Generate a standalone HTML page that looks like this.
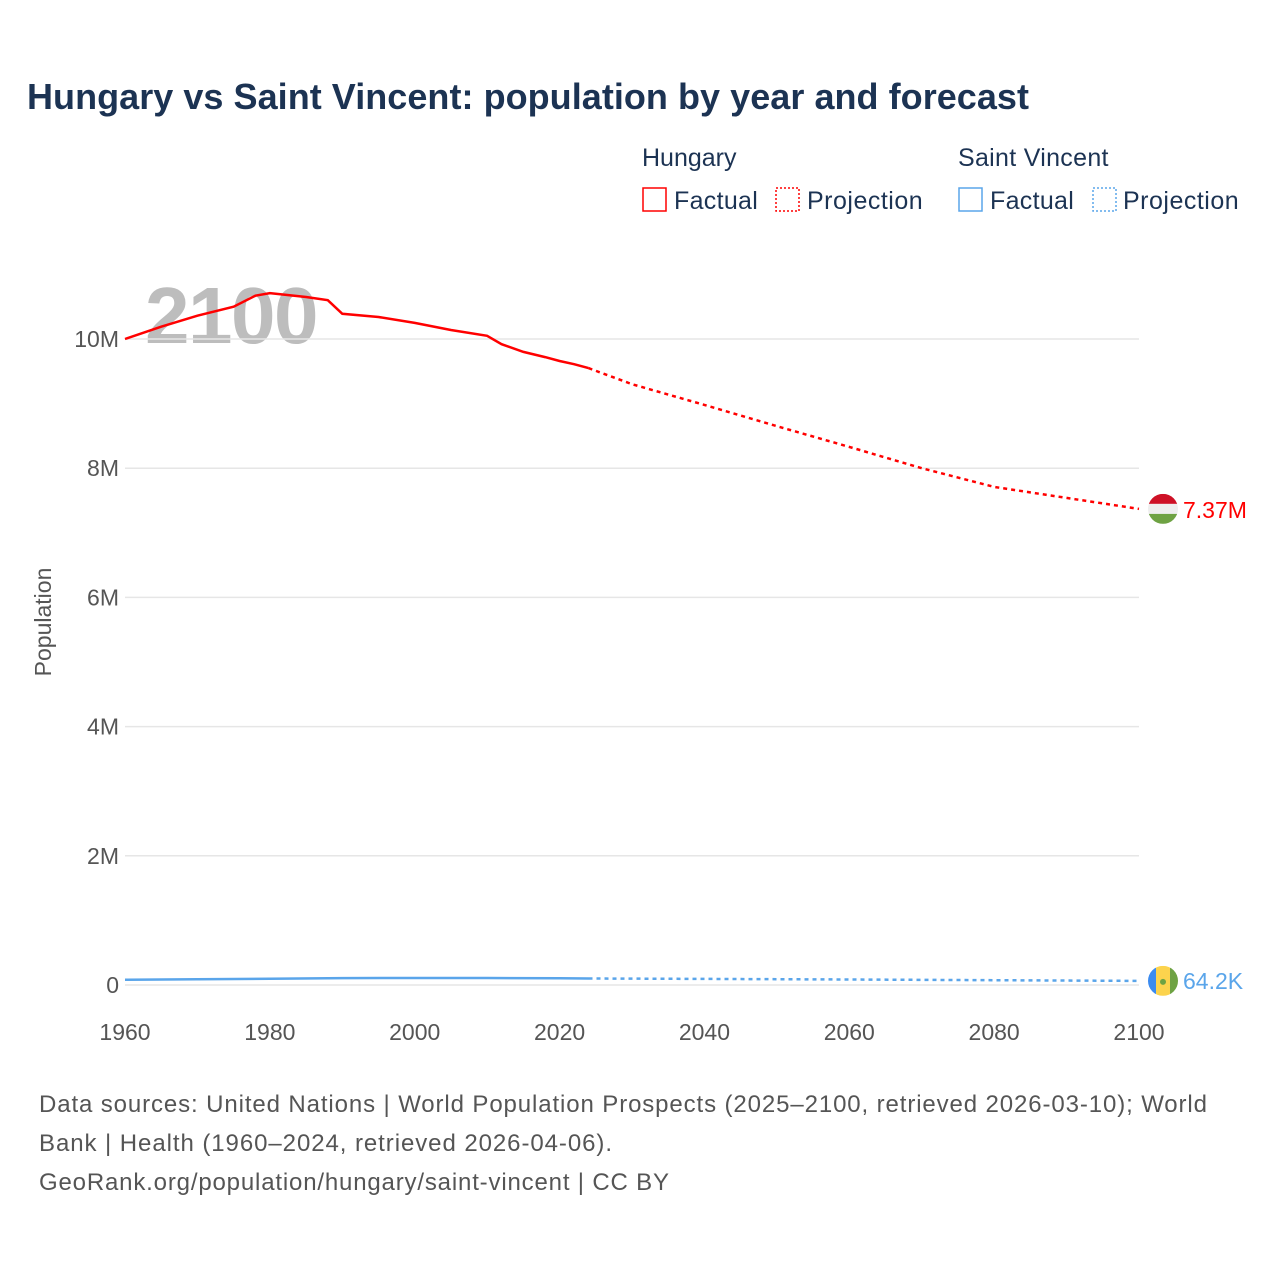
<!DOCTYPE html>
<html><head><meta charset="utf-8"><style>
body{margin:0;background:#fff;font-family:"Liberation Sans",sans-serif}
</style></head><body>
<svg width="1280" height="1280" xmlns="http://www.w3.org/2000/svg" id="chart" font-family="Liberation Sans, sans-serif">
<text x="27" y="109" font-size="36" font-weight="bold" fill="#1c3353" textLength="1002">Hungary vs Saint Vincent: population by year and forecast</text>
<g font-size="25" fill="#1c3353">
<text x="642" y="166">Hungary</text>
<rect x="643" y="188" width="23" height="23" fill="none" stroke="#f00" stroke-width="1.5"/>
<text x="674" y="209" letter-spacing="0.3">Factual</text>
<rect x="776" y="188" width="23" height="23" fill="none" stroke="#f00" stroke-width="1.5" stroke-dasharray="2,2"/>
<text x="807" y="209" letter-spacing="0.5">Projection</text>
<text x="958" y="166" letter-spacing="0.3">Saint Vincent</text>
<rect x="959" y="188" width="23" height="23" fill="none" stroke="#5aa5ea" stroke-width="1.5"/>
<text x="990" y="209" letter-spacing="0.3">Factual</text>
<rect x="1093" y="188" width="23" height="23" fill="none" stroke="#5aa5ea" stroke-width="1.5" stroke-dasharray="2,2"/>
<text x="1123" y="209" letter-spacing="0.5">Projection</text>
</g>
<text x="145" y="343" font-size="80" font-weight="bold" fill="#bdbdbd" letter-spacing="-1.5">2100</text>
<text transform="translate(51,622) rotate(-90)" text-anchor="middle" font-size="23" fill="#555">Population</text>
<g id="grid"></g><g id="lines"></g><g id="ends"></g>
<g font-size="24" fill="#555">
<text x="39" y="1112" textLength="1168">Data sources: United Nations | World Population Prospects (2025–2100, retrieved 2026-03-10); World</text>
<text x="39" y="1151" textLength="573">Bank | Health (1960–2024, retrieved 2026-04-06).</text>
<text x="39" y="1190" textLength="630">GeoRank.org/population/hungary/saint-vincent | CC BY</text>
</g>
</svg>
<script>
const yTicks=[0,2,4,6,8,10];
const yTickLabels=["0","2M","4M","6M","8M","10M"];
const xTicks=[1960,1980,2000,2020,2040,2060,2080,2100];
const huYears=[1960,1965,1970,1975,1978,1980,1985,1988,1990,1995,2000,2005,2010,2012,2015,2018,2020,2022,2024];
const huVals=[10.0,10.19,10.36,10.5,10.67,10.71,10.65,10.6,10.39,10.34,10.25,10.14,10.05,9.92,9.8,9.72,9.66,9.61,9.55];
const huProjYears=[2024,2030,2040,2050,2060,2070,2080,2090,2100];
const huProjVals=[9.55,9.3,8.98,8.65,8.33,8.0,7.71,7.54,7.37];
const svYears=[1960,1970,1980,1990,2000,2010,2020,2024];
const svVals=[0.081,0.089,0.098,0.107,0.108,0.109,0.104,0.101];
const svProjYears=[2024,2040,2060,2080,2100];
const svProjVals=[0.101,0.095,0.085,0.074,0.0642];
const NS="http://www.w3.org/2000/svg";
const X=y=>125+(y-1960)*(1014/140);
const Y=v=>985-v*64.6;
function mk(t,a,p){const e=document.createElementNS(NS,t);for(const k in a)e.setAttribute(k,a[k]);p.appendChild(e);return e;}
const grid=document.getElementById('grid');
yTicks.forEach((v,i)=>{
 const l=mk('line',{x1:125,x2:1139,y1:Y(v),y2:Y(v),stroke:'#e6e6e6','stroke-width':1.5},grid);
 
 
 const t=mk('text',{x:119,y:Y(v)+8,'text-anchor':'end','font-size':23,fill:'#555'},grid);
 t.textContent=yTickLabels[i];
 
 
});
xTicks.forEach(y=>{
 const t=mk('text',{x:X(y),y:1040,'text-anchor':'middle','font-size':23,fill:'#555'},grid);
 t.textContent=y;
 
 
});
const lines=document.getElementById('lines');
function path(xs,vs,col,dash,name){
 const d=xs.map((y,i)=>(i?'L':'M')+X(y).toFixed(1)+','+Y(vs[i]).toFixed(1)).join('');
 const p=mk('path',{d:d,fill:'none',stroke:col,'stroke-width':2.5},lines);
 if(dash)p.setAttribute('stroke-dasharray','4,4');
 
 
}
path(huYears,huVals,'#f00',false,'hungary-factual-line');
path(huProjYears,huProjVals,'#f00',true,'hungary-projection-line');
path(svYears,svVals,'#5aa5ea',false,'saint-vincent-factual-line');
path(svProjYears,svProjVals,'#5aa5ea',true,'saint-vincent-projection-line');
const ends=document.getElementById('ends');
const hy=Y(huProjVals[huProjVals.length-1]), sy=Y(svProjVals[svProjVals.length-1]);
const hf=mk('g',{},ends);


const cp1=mk('clipPath',{id:'c1'},hf);mk('circle',{cx:1163,cy:hy,r:15},cp1);
mk('rect',{x:1148,y:hy-15,width:30,height:10,fill:'#ce1126','clip-path':'url(#c1)'},hf);
mk('rect',{x:1148,y:hy-5,width:30,height:10,fill:'#eee','clip-path':'url(#c1)'},hf);
mk('rect',{x:1148,y:hy+5,width:30,height:10,fill:'#6ea243','clip-path':'url(#c1)'},hf);
const hl=mk('text',{x:1183,y:hy+9,'font-size':23,fill:'#f00'},ends);
hl.textContent='7.37M';


const sf=mk('g',{},ends);


const cp=mk('clipPath',{id:'c2'},sf);mk('circle',{cx:1163,cy:sy,r:15},cp);
mk('rect',{x:1148,y:sy-15,width:8,height:30,fill:'#3b8bf0','clip-path':'url(#c2)'},sf);
mk('rect',{x:1156,y:sy-15,width:14,height:30,fill:'#fcd34d','clip-path':'url(#c2)'},sf);
mk('rect',{x:1170,y:sy-15,width:8,height:30,fill:'#6ea243','clip-path':'url(#c2)'},sf);
mk('circle',{cx:1163,cy:sy+1,r:3,fill:'#6ea243'},sf);
const sl=mk('text',{x:1183,y:sy+8,'font-size':23,fill:'#5aa5ea'},ends);
sl.textContent='64.2K';


</script>
</body></html>
